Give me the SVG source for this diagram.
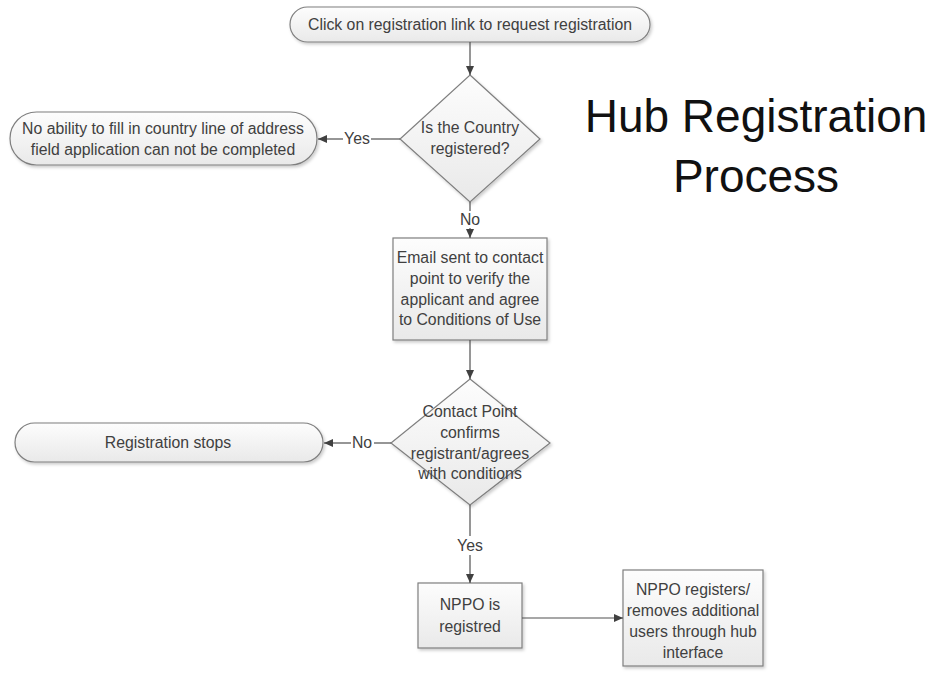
<svg xmlns="http://www.w3.org/2000/svg" width="935" height="673" viewBox="0 0 935 673">
  <defs>
    <linearGradient id="g" x1="0" y1="0" x2="0" y2="1">
      <stop offset="0" stop-color="#fdfdfd"/>
      <stop offset="1" stop-color="#e9e9e9"/>
    </linearGradient>
    <filter id="sh" x="-10%" y="-10%" width="130%" height="140%">
      <feDropShadow dx="1.5" dy="2" stdDeviation="1.5" flood-color="#000" flood-opacity="0.2"/>
    </filter>
    <marker id="ah" markerWidth="10" markerHeight="10" refX="9" refY="5" orient="auto" markerUnits="userSpaceOnUse">
      <path d="M0,1 L9,5 L0,9 Z" fill="#404040"/>
    </marker>
  </defs>
  <style>
    .shape { fill: url(#g); stroke: #7f7f7f; stroke-width: 1.2; filter: url(#sh); }
    .t { font-family: "Liberation Sans", Arial, sans-serif; font-size: 15.8px; fill: #404040; text-anchor: middle; }
    .lbl { font-family: "Liberation Sans", Arial, sans-serif; font-size: 15.8px; fill: #404040; text-anchor: middle; }
    .title { font-family: "Liberation Sans", Arial, sans-serif; font-size: 46px; fill: #111; text-anchor: middle; }
    .c { stroke: #505050; stroke-width: 1.2; fill: none; }
  </style>
  <rect width="935" height="673" fill="#fff"/>

  <g id="title">
    <text class="title" x="756" y="132">Hub Registration</text>
    <text class="title" x="756" y="192">Process</text>
  </g>

  <g id="start">
    <rect class="shape" x="290" y="7" width="360" height="35" rx="17.5" ry="17.5"/>
    <text class="t" x="470" y="30">Click on registration link to request registration</text>
  </g>

  <g id="country">
    <polygon class="shape" points="470,75 540,139 470,202 400,139"/>
    <text class="t" x="470" y="133">Is the Country</text>
    <text class="t" x="470" y="154">registered?</text>
  </g>

  <g id="noability">
    <rect class="shape" x="10" y="112" width="307" height="53" rx="26.5" ry="26.5"/>
    <text class="t" x="163" y="134">No ability to fill in country line of address</text>
    <text class="t" x="163" y="155">field application can not be completed</text>
  </g>

  <g id="email">
    <rect class="shape" x="393" y="238" width="154" height="102"/>
    <text class="t" x="470" y="263">Email sent to contact</text>
    <text class="t" x="470" y="284">point to verify the</text>
    <text class="t" x="470" y="305">applicant and agree</text>
    <text class="t" x="470" y="325">to Conditions of Use</text>
  </g>

  <g id="confirm">
    <polygon class="shape" points="470,379 550,443 470,505 391,443"/>
    <text class="t" x="470" y="417">Contact Point</text>
    <text class="t" x="470" y="438">confirms</text>
    <text class="t" x="470" y="459">registrant/agrees</text>
    <text class="t" x="470" y="479">with conditions</text>
  </g>

  <g id="stops">
    <rect class="shape" x="15" y="423" width="308" height="39" rx="19.5" ry="19.5"/>
    <text class="t" x="168" y="448">Registration stops</text>
  </g>

  <g id="nppo">
    <rect class="shape" x="418" y="583" width="104" height="65"/>
    <text class="t" x="470" y="610">NPPO is</text>
    <text class="t" x="470" y="632">registred</text>
  </g>

  <g id="nppousers">
    <rect class="shape" x="623" y="570" width="140" height="96"/>
    <text class="t" x="693" y="595">NPPO registers/</text>
    <text class="t" x="693" y="616">removes additional</text>
    <text class="t" x="693" y="637">users through hub</text>
    <text class="t" x="693" y="658">interface</text>
  </g>

  <g id="connectors">
    <line class="c" x1="470" y1="42" x2="470" y2="75" marker-end="url(#ah)"/>
    <line class="c" x1="400" y1="139" x2="371" y2="139"/>
    <line class="c" x1="343" y1="139" x2="318" y2="139" marker-end="url(#ah)"/>
    <text class="lbl" x="357" y="144">Yes</text>
    <line class="c" x1="470" y1="202" x2="470" y2="211"/>
    <line class="c" x1="470" y1="228" x2="470" y2="238" marker-end="url(#ah)"/>
    <text class="lbl" x="470" y="225">No</text>
    <line class="c" x1="470" y1="340" x2="470" y2="379" marker-end="url(#ah)"/>
    <line class="c" x1="391" y1="443" x2="374" y2="443"/>
    <line class="c" x1="351" y1="443" x2="324" y2="443" marker-end="url(#ah)"/>
    <text class="lbl" x="362" y="448">No</text>
    <line class="c" x1="470" y1="505" x2="470" y2="536"/>
    <line class="c" x1="470" y1="555" x2="470" y2="583" marker-end="url(#ah)"/>
    <text class="lbl" x="470" y="551">Yes</text>
    <line class="c" x1="522" y1="618" x2="623" y2="618" marker-end="url(#ah)"/>
  </g>
</svg>
